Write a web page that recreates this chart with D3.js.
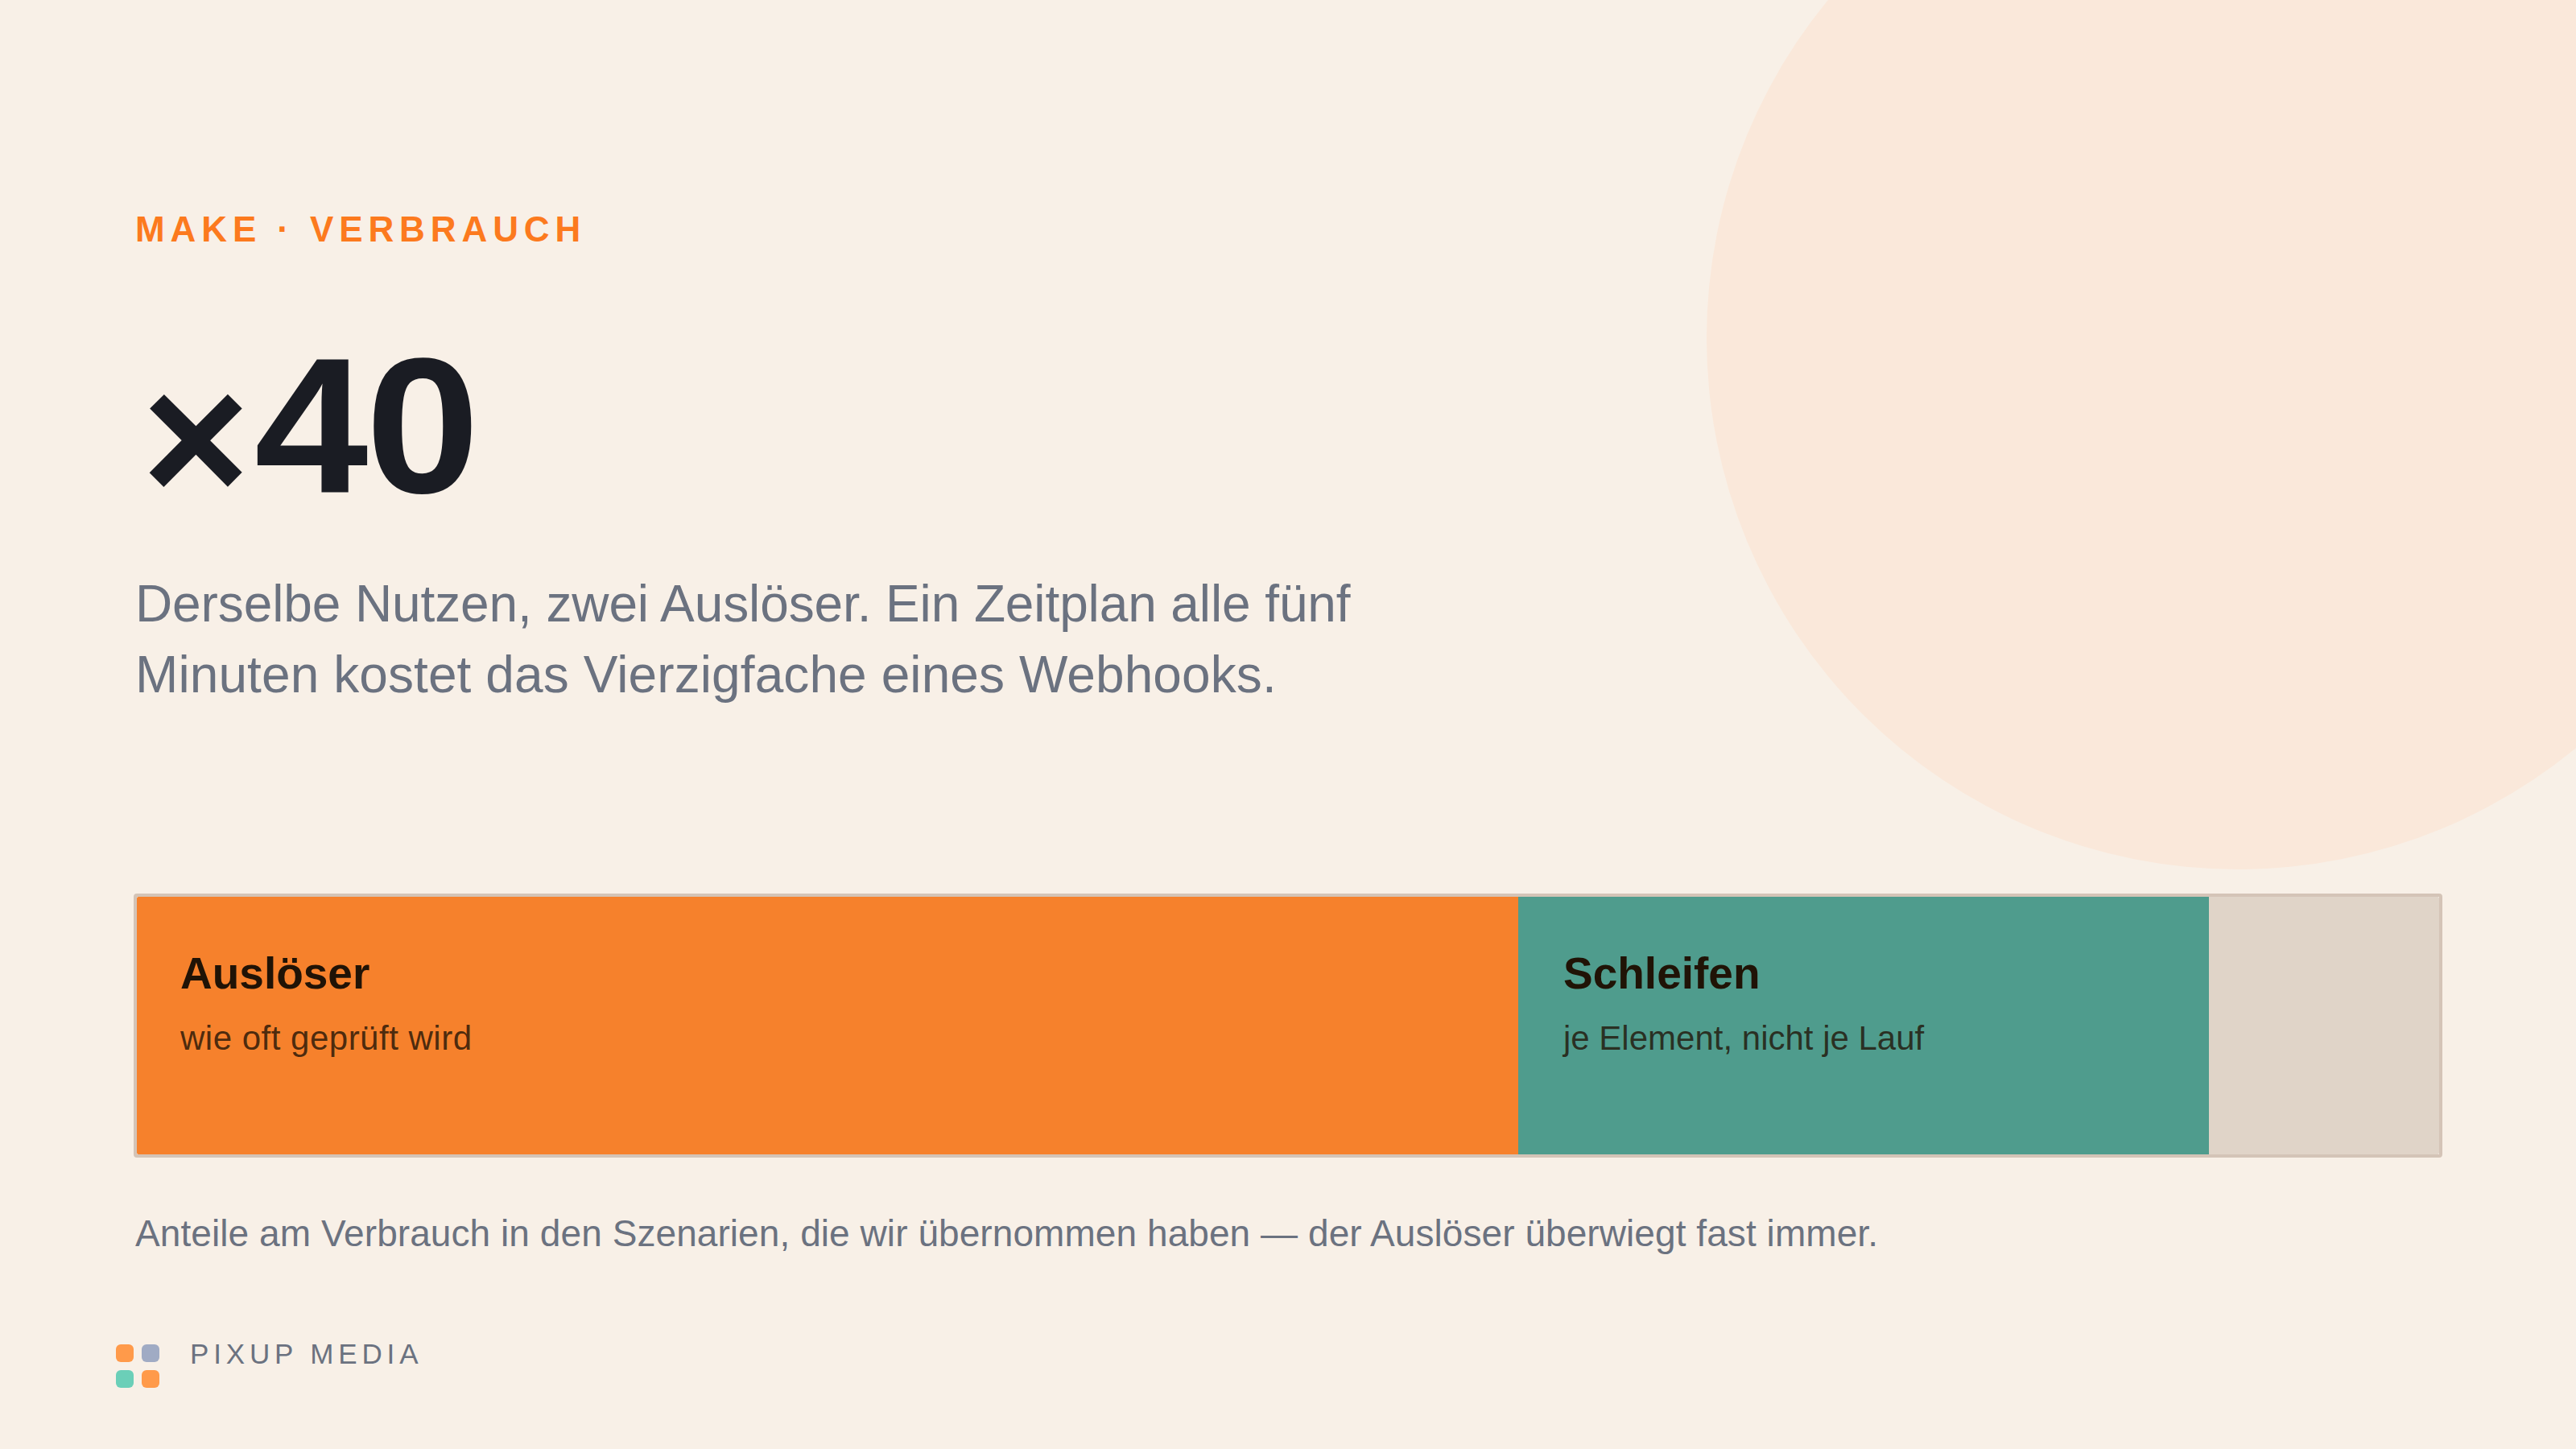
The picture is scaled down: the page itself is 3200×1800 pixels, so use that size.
<!DOCTYPE html>
<html>
<head>
<meta charset="utf-8">
<title>Make Verbrauch</title>
<script src="https://cdn.jsdelivr.net/npm/d3@7"></script>
<style>
    html, body { margin: 0; padding: 0; background: #f8f0e7; }
    svg { display: block; }
    text { font-family: "Liberation Sans", Arial, sans-serif; }
</style>
</head>
<body>
<div id="chart"></div>
<script>
// data
const categories = ["Auslöser", "Schleifen", "Rest"];
const shares = [60, 30, 10];
const subLabels = ["wie oft geprüft wird", "je Element, nicht je Lauf", ""];
const barColors = ["#f6812c", "#4f9c8d", "#e0d4c8"];
const introLines = ["Derselbe Nutzen, zwei Auslöser. Ein Zeitplan alle fünf", "Minuten kostet das Vierzigfache eines Webhooks."];
const logoColors = ["#ff9a4a", "#a0abc4", "#6bcfb8", "#ff9a4a"];

// Liberation runs a bit different from the original font, tracking per line to fit
const introTracking = [-0.11, 0.09];
const subTracking = [0.5, 0];
const labelOffset = [54, 56];

const width = 3200, height = 1800;
const svg = d3.select("#chart").append("svg")
    .attr("width", width)
    .attr("height", height);

svg.append("rect").attr("width", width).attr("height", height).attr("fill", "#f8f0e7");

// big circle top right
svg.append("circle")
    .attr("cx", 2780).attr("cy", 420).attr("r", 660)
    .attr("fill", "#fae8da");

// header
svg.append("text")
    .attr("x", 168).attr("y", 300)
    .attr("font-size", 44).attr("font-weight", 700)
    .attr("letter-spacing", 6.9)
    .attr("fill", "#fc7a1e")
    .text("MAKE · VERBRAUCH");

// the × sits lower than the digits, so it is its own text
svg.append("text")
    .attr("x", 176).attr("y", 624)
    .attr("font-size", 230).attr("font-weight", 700)
    .attr("fill", "#1a1c23")
    .text("×");

svg.append("text")
    .attr("transform", "translate(316,612) scale(1.06,1)")
    .attr("font-size", 240).attr("font-weight", 700)
    .attr("letter-spacing", -3)
    .attr("fill", "#1a1c23")
    .text("40");

svg.selectAll("text.intro")
    .data(introLines)
    .enter().append("text")
    .attr("class", "intro")
    .attr("x", 168)
    .attr("y", (d, i) => 772 + i * 88)
    .attr("font-size", 64)
    .attr("letter-spacing", (d, i) => introTracking[i])
    .attr("fill", "#6b7280")
    .text(d => d);

// stacked bar
const barTop = 1114, barBottom = 1434, barLeft = 170, barRight = 3030;
const x = d3.scaleLinear().domain([0, d3.sum(shares)]).range([barLeft, barRight]);

const row = {};
categories.forEach((c, i) => row[c] = shares[i]);
const series = d3.stack().keys(categories)([row]);

svg.append("clipPath").attr("id", "barClip")
    .append("rect")
    .attr("x", barLeft).attr("y", barTop)
    .attr("width", barRight - barLeft).attr("height", barBottom - barTop)
    .attr("rx", 2);

svg.append("rect")
    .attr("x", barLeft - 2).attr("y", barTop - 2)
    .attr("width", barRight - barLeft + 4).attr("height", barBottom - barTop + 4)
    .attr("rx", 2)
    .attr("fill", "#f8f0e7")
    .attr("stroke", "#d4c4b7")
    .attr("stroke-width", 4);

const seg = svg.selectAll("g.seg")
    .data(series)
    .enter().append("g")
    .attr("class", "seg");

seg.append("rect")
    .attr("x", d => x(d[0][0]))
    .attr("y", barTop)
    .attr("width", d => x(d[0][1]) - x(d[0][0]))
    .attr("height", barBottom - barTop)
    .attr("clip-path", "url(#barClip)")
    .attr("fill", (d, i) => barColors[i]);

seg.filter((d, i) => subLabels[i] != "").append("text")
    .attr("x", d => x(d[0][0]) + labelOffset[categories.indexOf(d.key)])
    .attr("y", 1228)
    .attr("font-size", 55).attr("font-weight", 700)
    .attr("fill", "#201306")
    .text(d => d.key);

seg.filter((d, i) => subLabels[i] != "").append("text")
    .attr("x", d => x(d[0][0]) + labelOffset[categories.indexOf(d.key)])
    .attr("y", 1304)
    .attr("font-size", 42)
    .attr("letter-spacing", d => subTracking[categories.indexOf(d.key)])
    .attr("fill", "#201306").attr("fill-opacity", 0.8)
    .text(d => subLabels[categories.indexOf(d.key)]);

// caption
svg.append("text")
    .attr("x", 168).attr("y", 1548)
    .attr("font-size", 46)
    .attr("letter-spacing", 0.07)
    .attr("fill", "#6b7280")
    .text("Anteile am Verbrauch in den Szenarien, die wir übernommen haben — der Auslöser überwiegt fast immer.");

// logo
const logoX = d3.scaleBand().domain([0, 1]).range([144, 198]).paddingInner(0.3125);
const logoY = d3.scaleBand().domain([0, 1]).range([1670, 1724]).paddingInner(0.3125);
svg.selectAll("rect.logo")
    .data(logoColors)
    .enter().append("rect")
    .attr("class", "logo")
    .attr("x", (d, i) => logoX(i % 2))
    .attr("y", (d, i) => logoY(Math.floor(i / 2)))
    .attr("width", logoX.bandwidth())
    .attr("height", logoY.bandwidth())
    .attr("rx", 6)
    .attr("fill", d => d);

svg.append("text")
    .attr("x", 236).attr("y", 1694)
    .attr("font-size", 35)
    .attr("letter-spacing", 5.85)
    .attr("fill", "#6b7280")
    .text("PIXUP MEDIA");
</script>
</body>
</html>
